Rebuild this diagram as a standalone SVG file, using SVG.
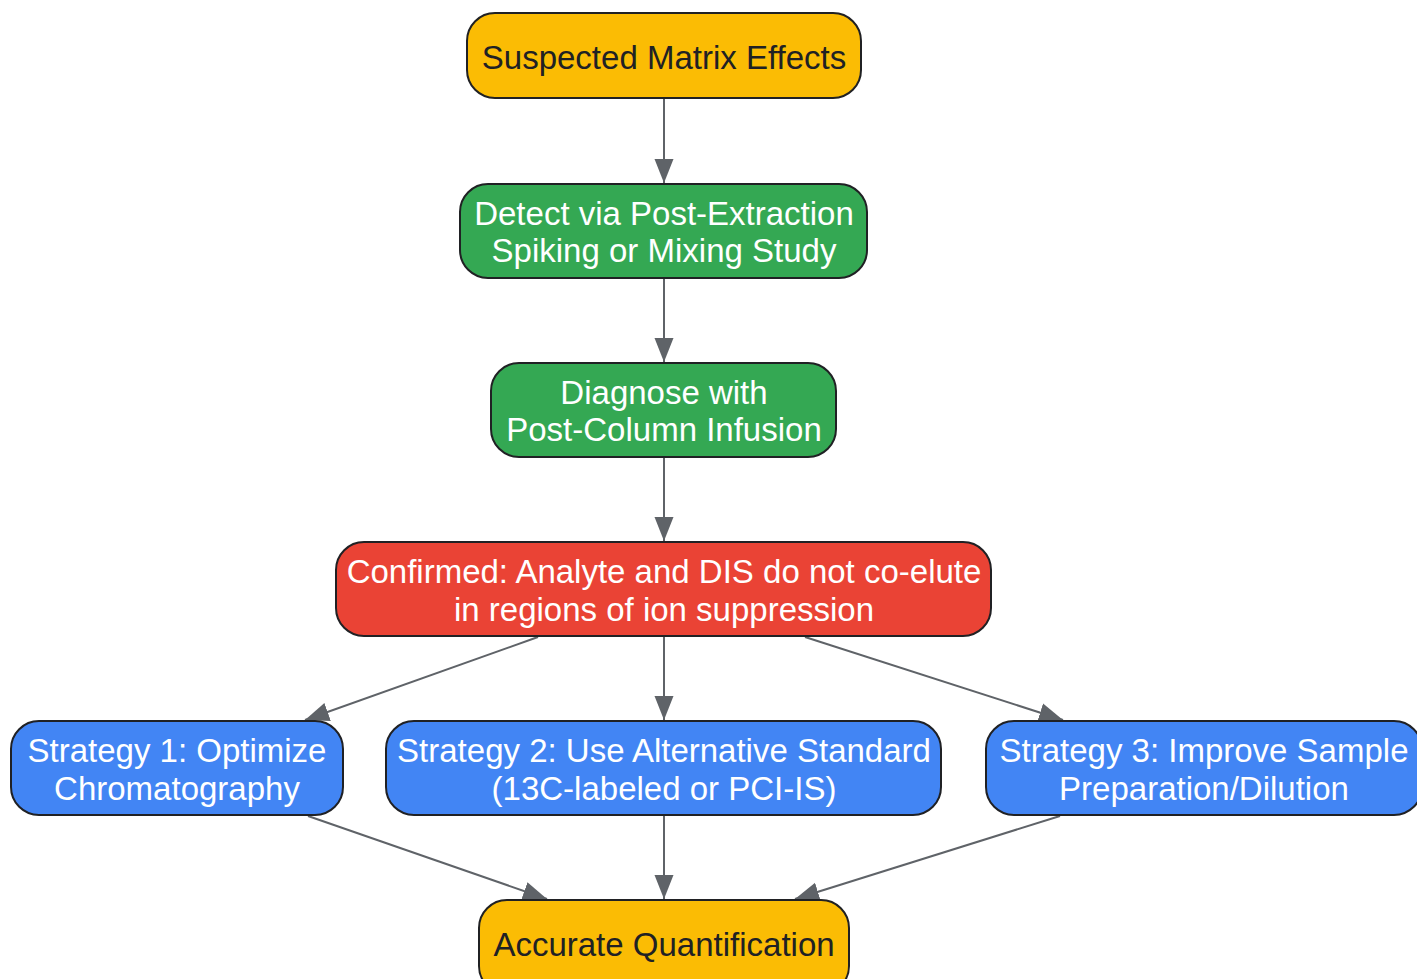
<svg xmlns="http://www.w3.org/2000/svg" width="1417" height="979" viewBox="0 0 1417 979">
<style>
.n{stroke:#202124;stroke-width:2}
.y{fill:#FBBC04}.g{fill:#34A853}.r{fill:#EA4335}.b{fill:#4285F4}
text{font-family:"Liberation Sans",Arial,sans-serif;font-size:33px;text-anchor:middle}
.dk{fill:#202124}.wt{fill:#FFFFFF}
.e{stroke:#5F6368;stroke-width:2;fill:none;marker-end:url(#ah)}
</style>
<defs>
<marker id="ah" viewBox="0 0 24 20" refX="24" refY="10" markerWidth="24" markerHeight="20" markerUnits="userSpaceOnUse" orient="auto">
<path d="M0,0.5 L24,10 L0,19.5 z" fill="#5F6368"/>
</marker>
</defs>
<rect width="1417" height="979" fill="#FFFFFF"/>
<g id="edges">
<line class="e" x1="664" y1="99" x2="664" y2="183"/>
<line class="e" x1="664" y1="279" x2="664" y2="362"/>
<line class="e" x1="664" y1="458" x2="664" y2="541"/>
<line class="e" x1="538" y1="637" x2="305" y2="720"/>
<line class="e" x1="664" y1="637" x2="664" y2="720"/>
<line class="e" x1="805" y1="637" x2="1063" y2="720"/>
<line class="e" x1="308" y1="816" x2="547" y2="899"/>
<line class="e" x1="664" y1="816" x2="664" y2="899"/>
<line class="e" x1="1060" y1="816" x2="795" y2="899"/>
</g>
<g id="n1"><rect class="n y" x="467" y="13" width="394" height="85" rx="28"/><text class="dk" x="664" y="69">Suspected Matrix Effects</text></g>
<g id="n2"><rect class="n g" x="460" y="184" width="407" height="94" rx="28"/><text class="wt" x="664" y="225">Detect via Post-Extraction</text><text class="wt" x="664" y="262">Spiking or Mixing Study</text></g>
<g id="n3"><rect class="n g" x="491" y="363" width="345" height="94" rx="28"/><text class="wt" x="664" y="404">Diagnose with</text><text class="wt" x="664" y="441">Post-Column Infusion</text></g>
<g id="n4"><rect class="n r" x="336" y="542" width="655" height="94" rx="28"/><text class="wt" x="664" y="583">Confirmed: Analyte and DIS do not co-elute</text><text class="wt" x="664" y="621">in regions of ion suppression</text></g>
<g id="n5"><rect class="n b" x="11" y="721" width="332" height="94" rx="28"/><text class="wt" x="177" y="762">Strategy 1: Optimize</text><text class="wt" x="177" y="800">Chromatography</text></g>
<g id="n6"><rect class="n b" x="386" y="721" width="555" height="94" rx="28"/><text class="wt" x="664" y="762">Strategy 2: Use Alternative Standard</text><text class="wt" x="664" y="800">(13C-labeled or PCI-IS)</text></g>
<g id="n7"><rect class="n b" x="986" y="721" width="436" height="94" rx="28"/><text class="wt" x="1204" y="762">Strategy 3: Improve Sample</text><text class="wt" x="1204" y="800">Preparation/Dilution</text></g>
<g id="n8"><rect class="n y" x="479" y="900" width="370" height="94" rx="28"/><text class="dk" x="664" y="956">Accurate Quantification</text></g>
</svg>
